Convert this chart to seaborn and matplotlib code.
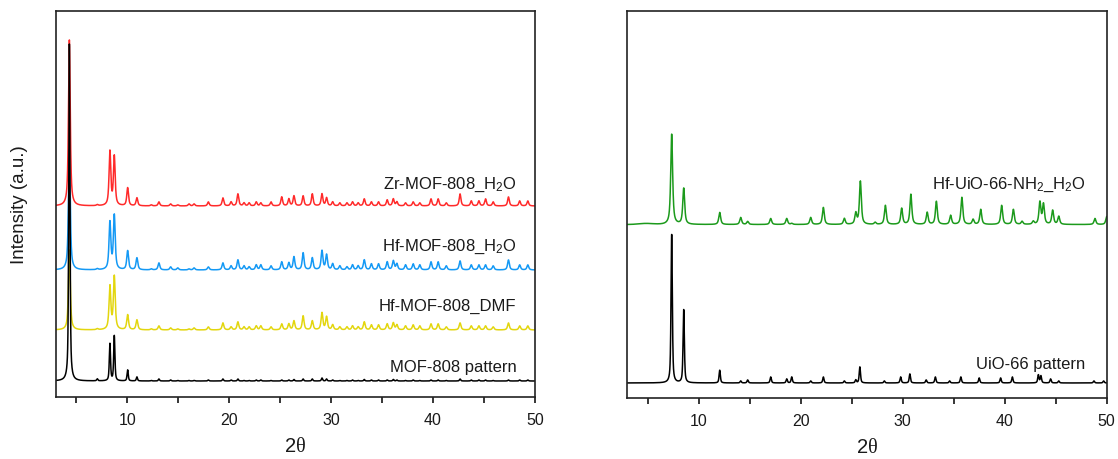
import numpy as np
import pandas as pd
import matplotlib
matplotlib.use("Agg")
import matplotlib.pyplot as plt
from matplotlib.ticker import MultipleLocator
import seaborn as sns

# ---------------- peak tables (2-theta in degrees, peak heights in a.u.) ----------------
mof808_pos = [4.31, 7.05, 8.29, 8.72, 10.03, 10.94, 12.35, 13.10, 14.25, 14.95, 16.05, 16.55,
              17.95, 19.38, 20.18, 20.85, 21.45, 21.95, 22.65, 23.10, 24.10, 25.15, 25.85,
              26.35, 27.25, 28.15, 29.10, 29.55, 30.15, 30.85, 31.55, 32.10, 32.65, 33.25,
              33.95, 34.65, 35.50, 36.10, 36.45, 37.30, 38.05, 38.70, 39.80, 40.50, 41.30,
              42.65, 43.75, 44.50, 45.15, 45.90, 47.40, 48.50, 49.30]

zr808_h2o_h = [166, 1, 54, 49, 18, 8, 1, 4, 2, 1, 2, 2,
               4, 8, 4, 12, 3, 3, 4, 3, 4, 9, 7,
               10, 10, 12, 12, 8, 4, 3, 3, 4, 3, 7,
               4, 4, 6, 7, 4, 3, 4, 3, 7, 7, 3,
               12, 5, 5, 7, 4, 9, 5, 5]

hf808_h2o_h = [121, 1, 47, 54, 19, 12, 1, 7, 3, 2, 1, 2,
               3, 7, 4, 10, 4, 3, 5, 5, 4, 8, 7,
               13, 17, 12, 19, 15, 6, 4, 3, 5, 4, 10,
               6, 6, 8, 9, 6, 5, 6, 5, 8, 8, 4,
               9, 5, 5, 5, 4, 10, 5, 5]

hf808_dmf_h = [80, 1, 43, 53, 15, 10, 1, 4, 2, 1, 1, 2,
               3, 7, 3, 8, 3, 3, 4, 4, 3, 6, 6,
               9, 14, 9, 17, 13, 5, 3, 3, 4, 3, 8,
               5, 5, 6, 7, 5, 4, 5, 4, 6, 6, 3,
               7, 4, 4, 4, 3, 7, 4, 4]

mof808_sim_h = [337, 2, 37, 45, 11, 4, 0.5, 2, 1, 0.5, 0.5, 0.5,
                1, 2, 1, 2, 0.5, 0.5, 1, 1, 0.5, 1, 1,
                1.5, 2, 2, 3, 2, 1, 0.5, 0.5, 1, 0.5, 1.5,
                1, 1, 1, 1.5, 1, 0.5, 1, 0.5, 1, 1, 0.5,
                2, 1, 1, 1, 0.5, 1, 1, 1]

uio66_sim_pos = [7.35, 8.53, 12.06, 14.12, 14.80, 17.06, 18.63, 19.12, 20.98, 22.22, 24.28,
                 25.40, 25.80, 28.20, 29.80, 30.70, 32.30, 33.20, 34.60, 35.70, 37.50, 39.60,
                 40.75, 43.30, 43.55, 44.50, 45.30, 48.75, 49.70]
uio66_sim_h = [148, 73, 12.7, 2, 3, 6, 4, 6, 2, 6, 2,
               3, 16, 2, 6, 9, 3, 6, 2, 6, 5, 5,
               6, 8, 7, 4, 2, 2, 2]

hfuio_pos = [7.35, 8.53, 12.06, 14.12, 14.80, 17.06, 18.63, 19.12, 20.98, 22.22, 24.28,
             25.40, 25.85, 27.30, 28.30, 29.90, 30.80, 32.40, 33.30, 34.70, 35.80, 36.90,
             37.65, 39.70, 40.85, 41.70, 42.80, 43.45, 43.80, 44.70, 45.30, 48.85, 50.00]
hfuio_h = [90, 36, 12, 7, 3, 6, 6, 1, 7, 17, 6,
           11, 43, 2, 19, 16, 30, 12, 23, 9, 27, 5,
           15, 19, 15, 3, 3, 22, 20, 14, 8, 6, 8]
hfuio_hump = (4.8, 1.0)   # weak broad background feature (centre, height)

# ---------------- labels ----------------
left_names = ["Hf-MOF-808_DMF", "Hf-MOF-808_H$_2$O", "Zr-MOF-808_H$_2$O", "MOF-808 pattern"]
right_names = ["Hf-UiO-66-NH$_2$_H$_2$O", "UiO-66 pattern"]
x_ticks = [10, 20, 30, 40, 50]

# ---------------- styling ----------------
sns.set_theme(style="ticks")
plt.rcParams["font.family"] = ["Liberation Sans", "DejaVu Sans"]
plt.rcParams["mathtext.fontset"] = "custom"
plt.rcParams["mathtext.rm"] = "Liberation Sans"
plt.rcParams["mathtext.it"] = "Liberation Serif"
plt.rcParams["mathtext.bf"] = "Liberation Sans:bold"

RED = "#FF2A2A"
BLUE = "#1499F5"
YELLOW = "#E3D60E"
GREEN = "#1C9A1C"
BLACK = "#000000"

grid = np.linspace(3, 50, 7000)


def profile(pos, heights, fwhm, eta=0.75):
    """Pseudo-Voigt sum, each peak scaled to unit height at its centre."""
    x = grid[:, None]
    p = np.asarray(pos)[None, :]
    h = np.asarray(heights, dtype=float)[None, :]
    g = fwhm / 2.0
    lor = g ** 2 / ((x - p) ** 2 + g ** 2)
    gau = np.exp(-np.log(2) * ((x - p) / g) ** 2)
    return ((eta * lor + (1 - eta) * gau) * h).sum(axis=1)


def draw(ax, y, offset, color):
    df = pd.DataFrame({"two_theta": grid, "intensity": y + offset})
    sns.lineplot(data=df, x="two_theta", y="intensity", ax=ax, color=color,
                 linewidth=1.1, legend=False, estimator=None, sort=False)


fig = plt.figure(figsize=(11.18, 4.6), dpi=100)
ax1 = fig.add_axes([0.0501, 0.1348, 0.4284, 0.8391])
ax2 = fig.add_axes([0.5611, 0.1326, 0.4288, 0.8413])

# left panel: MOF-808 family, stacked
draw(ax1, profile(mof808_pos, hf808_dmf_h, 0.21), 67, YELLOW)
draw(ax1, profile(mof808_pos, hf808_h2o_h, 0.21), 127, BLUE)
draw(ax1, profile(mof808_pos, zr808_h2o_h, 0.2), 191, RED)
draw(ax1, profile(mof808_pos, mof808_sim_h, 0.14, eta=0.6), 16, BLACK)

# right panel: UiO-66 family
hump = hfuio_hump[1] * np.exp(-((grid - hfuio_hump[0]) / 1.0) ** 2)
draw(ax2, profile(hfuio_pos, hfuio_h, 0.22) + hump, 173, GREEN)
draw(ax2, profile(uio66_sim_pos, uio66_sim_h, 0.15, eta=0.6), 15, BLACK)

label_kw = dict(ha="right", va="baseline", fontsize=12, color="#1a1a1a")
ax1.text(48.2, 87, left_names[0], **label_kw)
ax1.text(48.2, 147, left_names[1], **label_kw)
ax1.text(48.2, 209, left_names[2], **label_kw)
ax1.text(48.2, 26, left_names[3], **label_kw)
ax2.text(47.9, 210, right_names[0], **label_kw)
ax2.text(47.9, 30, right_names[1], **label_kw)

for ax in (ax1, ax2):
    ax.set_xlim(3, 50)
    ax.set_ylim(0, 386)
    ax.set_xticks(x_ticks)
    ax.xaxis.set_minor_locator(MultipleLocator(5))
    ax.set_yticks([])
    ax.tick_params(axis="x", which="both", direction="out", length=4.5, width=1.1,
                   color="black", labelsize=11.5, labelcolor="#1a1a1a", pad=6)
    for s in ax.spines.values():
        s.set_visible(True)
        s.set_color("#222222")
        s.set_linewidth(1.2)
    ax.set_xlabel(r"2$\theta$", fontsize=14.5, labelpad=7, color="#1a1a1a")
    ax.set_ylabel("")

ax1.set_ylabel("Intensity (a.u.)", fontsize=13.5, labelpad=20, color="#1a1a1a")

fig.savefig("out.png", dpi=100, facecolor="white")
